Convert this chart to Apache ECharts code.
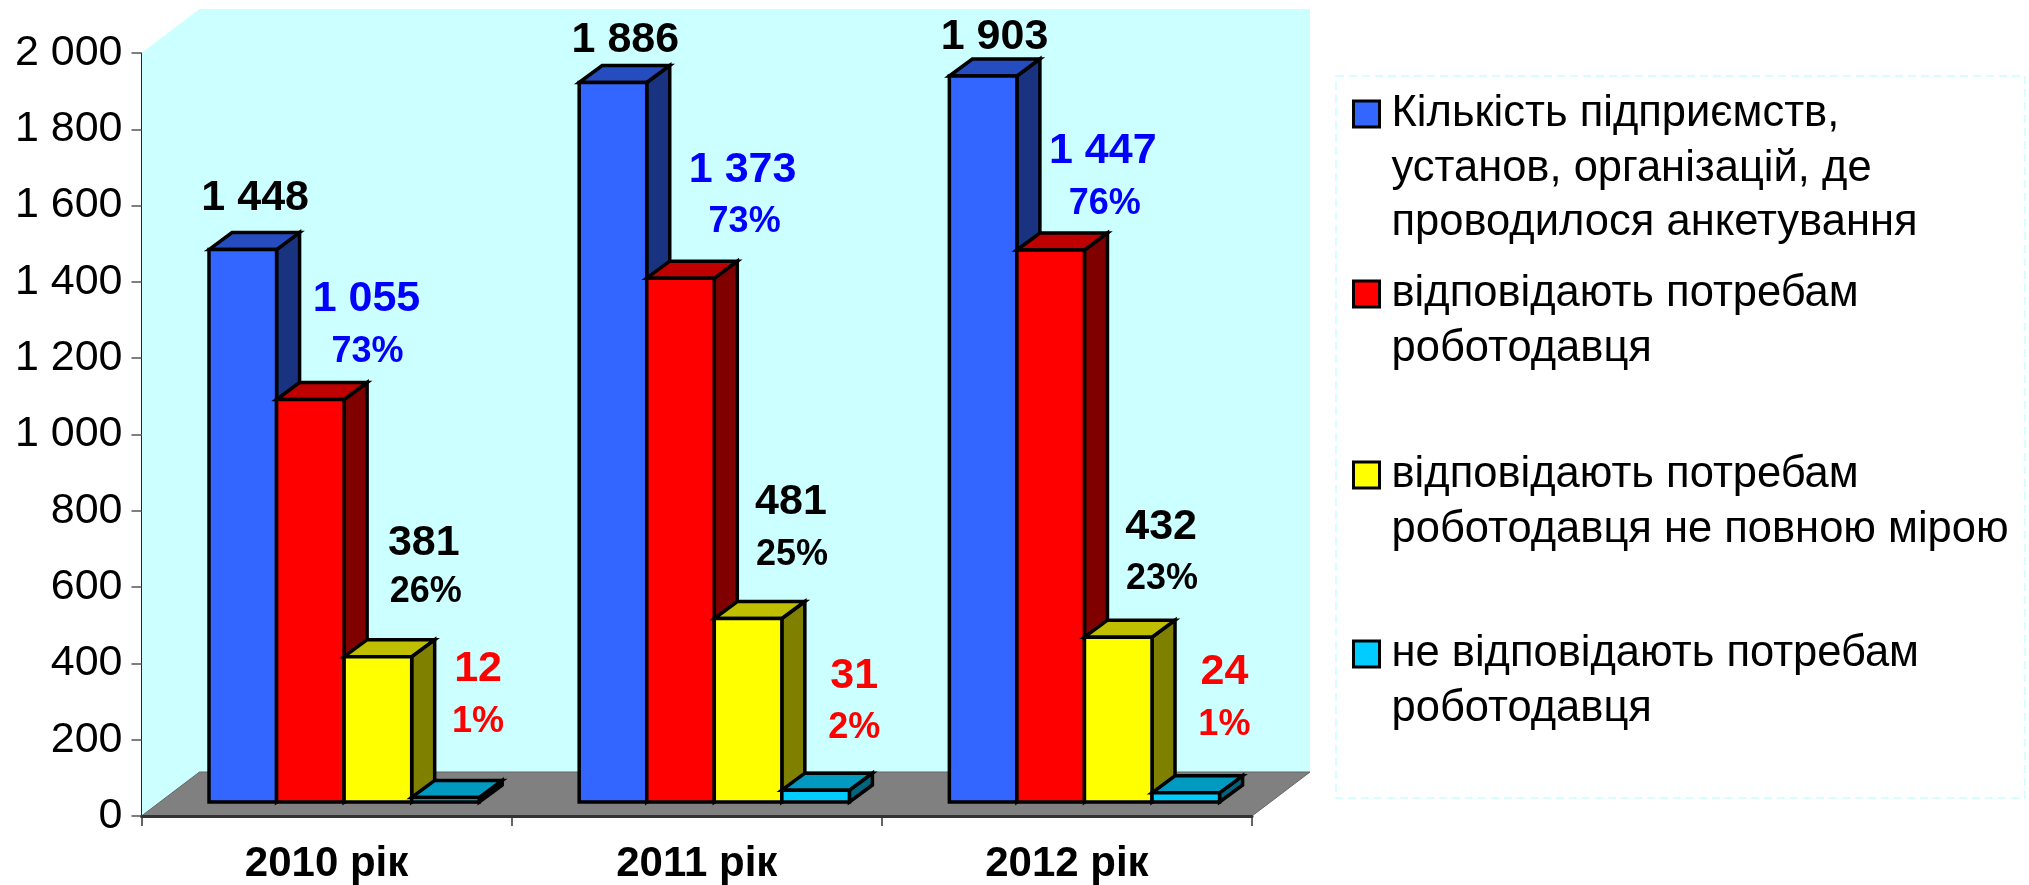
<!DOCTYPE html>
<html>
<head>
<meta charset="utf-8">
<title>chart</title>
<script src="https://cdn.jsdelivr.net/npm/echarts@6/dist/echarts.min.js"></script>
<style>
  html, body { margin: 0; padding: 0; background: #fff; }
  #chart { width: 2029px; height: 885px; }
</style>
</head>
<body>
<div id="chart"></div>
<script>
var categories = ['2010 рік', '2011 рік', '2012 рік'];

var seriesNames = [
  'Кількість підприємств,\nустанов, організацій, де\nпроводилося анкетування',
  'відповідають потребам\nроботодавця',
  'відповідають потребам\nроботодавця не повною мірою',
  'не відповідають потребам\nроботодавця'
];

var enterprises = [1448, 1886, 1903];
var matching = [1055, 1373, 1447];
var partly = [381, 481, 432];
var notMatching = [12, 31, 24];

var matchingPct = ['73%', '73%', '76%'];
var partlyPct = ['26%', '25%', '23%'];
var notMatchingPct = ['1%', '2%', '1%'];

var yMax = 2000;
var yStep = 200;

// front, top and side colours of the blocks
var faceColors = ['#3366FF', '#FF0000', '#FFFF00', '#00CCFF'];
var topColors = ['#264DBF', '#BF0000', '#BFBF00', '#0099BF'];
var sideColors = ['#1A3380', '#800000', '#808000', '#006680'];
var labelColors = ['#000', '#0000FF', '#000', '#FF0000'];

// hand placed labels, shift from the top middle of the block: [dx, dy number, dx, dy percent]
var labelShift = [
  [[12, -51], [12, -42], [11, -39]],
  [[55, -100, 56, -47], [61, -108, 63, -56], [51, -99, 53, -46]],
  [[44, -114, 46, -65], [41, -116, 42, -63], [41, -110, 42, -58]],
  [[30, -128, 30, -75], [36, -114, 36, -62], [36, -121, 36, -68]]
];

var FONT = '"Liberation Sans", Arial, sans-serif';
var WALL_DX = 58;
var WALL_DY = 44;
var BAR_DX = 23;
var BAR_DY = 17;
var BASE_UP = 14;
var LEGEND_LINE = 54.5;
var legendFirstLine = [114, 294, 475, 654];

function fmt(v) {
  return String(v).replace(/\B(?=(\d{3})+$)/g, ' ');
}

function poly(points, fill) {
  return {
    type: 'polygon',
    shape: { points: points },
    style: { fill: fill, stroke: '#000', lineWidth: 3.5, lineJoin: 'miter' }
  };
}

function makeBars(idx, values, pct) {
  return {
    name: seriesNames[idx],
    type: 'custom',
    coordinateSystem: 'cartesian2d',
    clip: false,
    itemStyle: { color: faceColors[idx] },
    encode: { x: 0, y: 1 },
    data: values.map(function (v, i) { return [i, v]; }),
    renderItem: function (params, api) {
      var cat = api.value(0);
      var top = api.coord([cat, api.value(1)]);
      var base = api.coord([cat, 0]);
      var band = api.size([1, 0])[0];
      var w = band * 0.1825;
      var x0 = top[0] - band * 0.3176 + idx * w;
      var x1 = x0 + w;
      var y0 = base[1] - BASE_UP;
      var y1 = top[1] - BASE_UP;
      var children = [
        poly([[x1, y1], [x1 + BAR_DX, y1 - BAR_DY], [x1 + BAR_DX, y0 - BAR_DY], [x1, y0]], sideColors[idx]),
        poly([[x0, y1], [x0 + BAR_DX, y1 - BAR_DY], [x1 + BAR_DX, y1 - BAR_DY], [x1, y1]], topColors[idx]),
        poly([[x0, y1], [x1, y1], [x1, y0], [x0, y0]], faceColors[idx])
      ];
      var s = labelShift[idx][cat];
      var cx = top[0] - band * 0.3176 + (idx + 0.5) * band * 0.1845;
      children.push({
        type: 'text',
        z2: 10,
        x: cx + s[0],
        y: y1 + s[1],
        style: {
          text: fmt(api.value(1)),
          fill: labelColors[idx],
          font: 'bold 43px ' + FONT,
          align: 'center',
          verticalAlign: 'middle'
        }
      });
      if (pct) {
        children.push({
          type: 'text',
          z2: 10,
          x: cx + s[2],
          y: y1 + s[3],
          style: {
            text: pct[cat],
            fill: labelColors[idx],
            font: 'bold 36px ' + FONT,
            align: 'center',
            verticalAlign: 'middle'
          }
        });
      }
      return { type: 'group', children: children };
    }
  };
}

// walls and floor of the plot
var backdrop = {
  name: 'backdrop',
  type: 'custom',
  coordinateSystem: 'cartesian2d',
  clip: false,
  silent: true,
  z: 1,
  data: [[0, 0]],
  renderItem: function (params, api) {
    var band = api.size([1, 0])[0];
    var o = api.coord([0, 0]);
    var t = api.coord([0, yMax]);
    var left = o[0] - band / 2;
    var right = left + band * categories.length;
    return {
      type: 'group',
      children: [
        {
          type: 'polygon',
          shape: {
            points: [[left, t[1]], [left + WALL_DX, t[1] - WALL_DY], [right + WALL_DX, t[1] - WALL_DY],
              [right + WALL_DX, o[1] - WALL_DY], [left + WALL_DX, o[1] - WALL_DY], [left, o[1]]]
          },
          style: { fill: '#CCFFFF' }
        },
        {
          type: 'polygon',
          shape: {
            points: [[left, o[1]], [left + WALL_DX, o[1] - WALL_DY], [right + WALL_DX, o[1] - WALL_DY], [right, o[1]]]
          },
          style: { fill: '#808080', stroke: '#666', lineWidth: 1 }
        }
      ]
    };
  }
};

function makeLegend(idx) {
  var lines = seriesNames[idx].split('\n').length;
  // blank lines on top keep the swatch level with the first line
  var blanks = new Array(lines).join('\n');
  return {
    data: [seriesNames[idx]],
    left: 1352,
    top: legendFirstLine[idx] - (lines - 1) * LEGEND_LINE - LEGEND_LINE / 2,
    padding: 0,
    orient: 'vertical',
    selectedMode: false,
    icon: 'rect',
    itemWidth: 26,
    itemHeight: 26,
    itemStyle: { borderColor: '#000', borderWidth: 3 },
    formatter: function (name) { return blanks + name; },
    textStyle: {
      fontFamily: FONT,
      fontSize: 43.5,
      color: '#000',
      lineHeight: LEGEND_LINE,
      padding: [0, 0, 0, 7]
    }
  };
}

var chart = echarts.init(document.getElementById('chart'), null, { renderer: 'canvas' });

chart.setOption({
  animation: false,
  backgroundColor: '#fff',
  grid: { left: 141.5, right: 777, top: 53, bottom: 69, containLabel: false },
  legend: [makeLegend(0), makeLegend(1), makeLegend(2), makeLegend(3)],
  graphic: [{
    type: 'rect',
    z: 0,
    shape: { x: 1336, y: 76, width: 689, height: 722 },
    style: { fill: 'none', stroke: '#CCFFFF', lineWidth: 1.5, lineDash: [8, 5] }
  }],
  xAxis: {
    type: 'category',
    data: categories,
    z: 3,
    axisLine: { lineStyle: { color: '#333', width: 3 } },
    axisTick: { show: true, alignWithLabel: false, length: 10, lineStyle: { color: '#333', width: 1.5 } },
    axisLabel: { color: '#000', fontFamily: FONT, fontSize: 42, fontWeight: 'bold', margin: 27 },
    splitLine: { show: false }
  },
  yAxis: {
    type: 'value',
    min: 0,
    max: yMax,
    interval: yStep,
    z: 3,
    axisLine: { show: true, lineStyle: { color: '#003333', width: 1 } },
    axisTick: { show: true, length: 10, lineStyle: { color: '#555', width: 1.5 } },
    axisLabel: { color: '#000', fontFamily: FONT, fontSize: 43, margin: 19, formatter: fmt },
    splitLine: { show: false }
  },
  series: [
    backdrop,
    makeBars(0, enterprises, null),
    makeBars(1, matching, matchingPct),
    makeBars(2, partly, partlyPct),
    makeBars(3, notMatching, notMatchingPct)
  ]
});
</script>
</body>
</html>
